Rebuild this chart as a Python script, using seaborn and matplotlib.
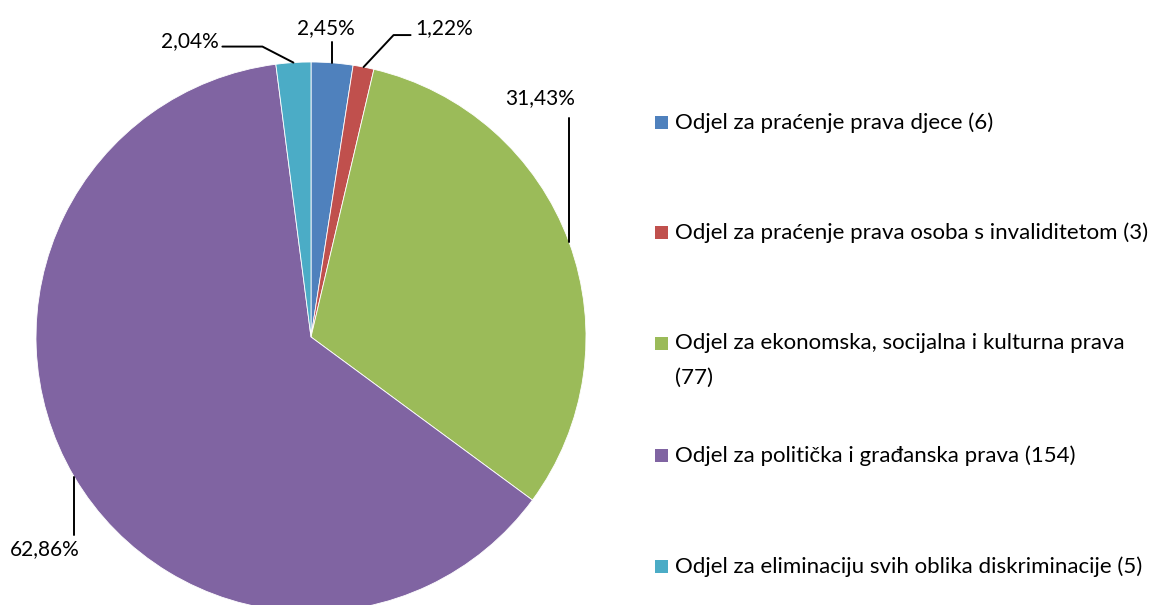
import numpy as np
import matplotlib
matplotlib.use("Agg")
import matplotlib.pyplot as plt
from matplotlib.patches import Rectangle
import seaborn as sns

# data
odjeli = [
    "Odjel za praćenje prava djece",
    "Odjel za praćenje prava osoba s invaliditetom",
    "Odjel za ekonomska, socijalna i kulturna prava",
    "Odjel za politička i građanska prava",
    "Odjel za eliminaciju svih oblika diskriminacije",
]
broj = [6, 3, 77, 154, 5]
boje = ["#4F81BD", "#C0504D", "#9BBB59", "#8064A2", "#4BACC6"]

sns.set_theme(style="white")
plt.rcParams["font.family"] = ["Lato", "DejaVu Sans"]

W, H = 1150, 605
CX, CY, R = 311, 337, 275  # pie centre / radius in pixels


def P(px, py):
    # pixel (from top-left) -> data coords of the full-figure axes
    return (px - CX) / R, (CY - py) / R


fig = plt.figure(figsize=(W / 100, H / 100), dpi=100)
ax = fig.add_axes([0, 0, 1, 1])

wedges, _ = ax.pie(broj, colors=sns.color_palette(boje), startangle=90,
                   counterclock=False, radius=1,
                   wedgeprops=dict(edgecolor="white", linewidth=0.6))
ax.set_xlim(P(0, 0)[0], P(W, 0)[0])
ax.set_ylim(P(0, H)[1], P(0, 0)[1])
ax.axis("off")

ukupno = sum(broj)
postoci = [f"{b / ukupno * 100:.2f}".replace(".", ",") + "%" for b in broj]

# leader line bends (pixel offsets from rim point) and label placement
vodice = [
    dict(pts=[(0, -21)], txt=(-6, -35), ha="center"),
    dict(pts=[(30, -32), (47, -32)], txt=(52, -39), ha="left"),
    dict(pts=[(0, -124)], txt=(-29, -144), ha="center"),
    dict(pts=[(0, 58)], txt=(-29, 73), ha="center"),
    dict(pts=[(-31, -16), (-71, -16)], txt=(-75, -21), ha="right"),
]

for w, lab, v in zip(wedges, postoci, vodice):
    kut = np.deg2rad((w.theta1 + w.theta2) / 2)
    rx, ry = CX + R * np.cos(kut), CY - R * np.sin(kut)
    xs = [rx] + [rx + dx for dx, dy in v["pts"]]
    ys = [ry] + [ry + dy for dx, dy in v["pts"]]
    d = [P(x, y) for x, y in zip(xs, ys)]
    ax.plot([p[0] for p in d], [p[1] for p in d], color="black", lw=1.4)
    tx, ty = P(rx + v["txt"][0], ry + v["txt"][1])
    ax.text(tx, ty, lab, ha=v["ha"], va="center", fontsize=15, color="black")

# legend
leg_y = [122, 232, 343, 455, 566]
for i, (ime, b) in enumerate(zip(odjeli, broj)):
    y = leg_y[i]
    x0, y0 = P(655, y + 7)
    ax.add_patch(Rectangle((x0, y0), 13 / R, 13 / R, color=boje[i], lw=0))
    lab = f"{ime} ({b})"
    if i == 2:
        lab = f"{ime}\n({b})"
    tx, ty = P(675, y - 10)
    ax.text(tx, ty, lab, ha="left", va="top", fontsize=16, color="black",
            linespacing=1.9)

fig.savefig("out.png", dpi=100)
